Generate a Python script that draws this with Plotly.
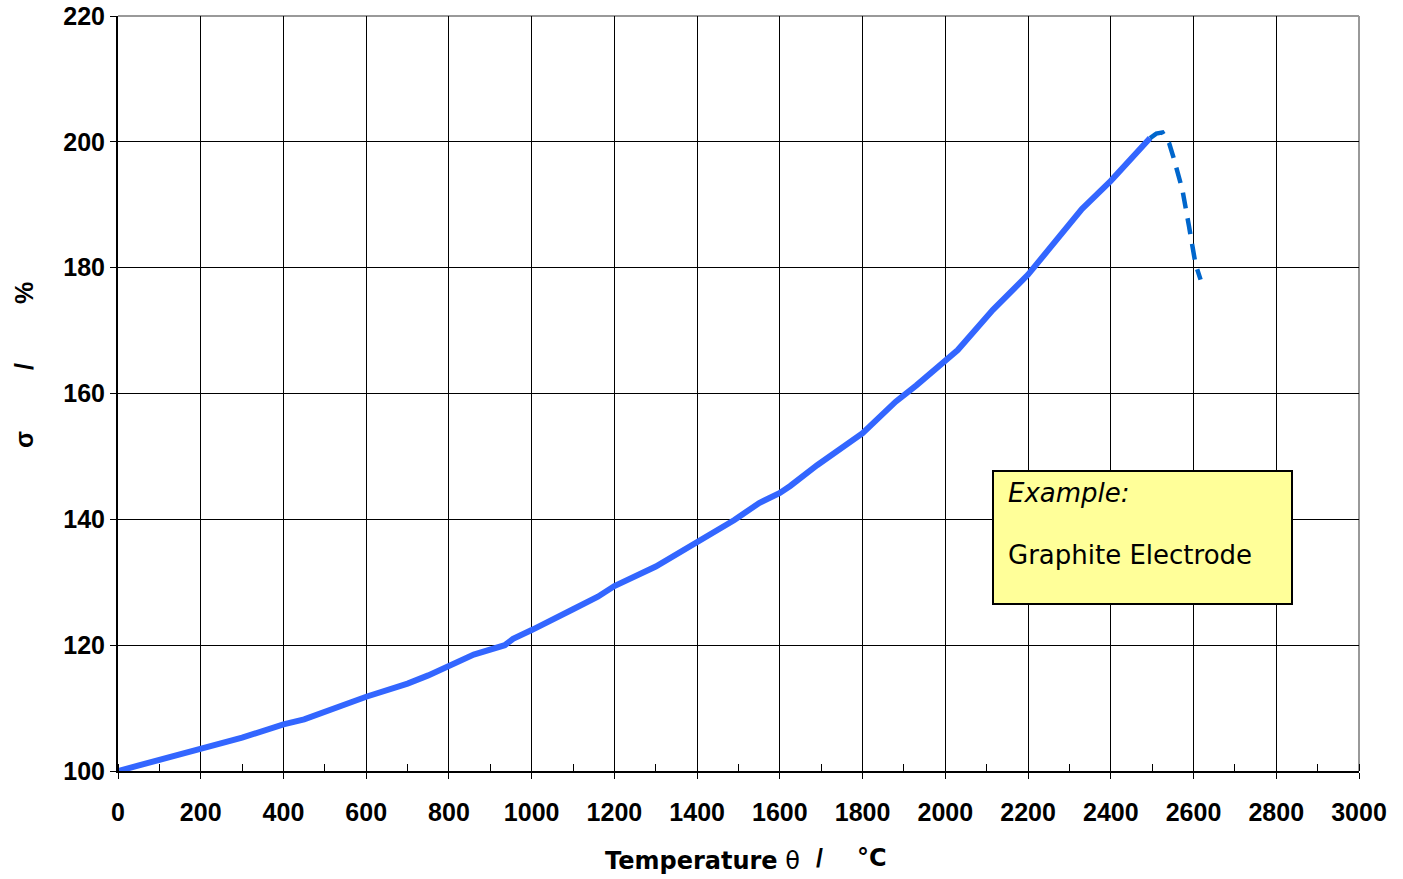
import plotly.graph_objects as go

# --- data ---
temp_solid = [0, 200, 300, 400, 450, 600, 700, 750, 800, 860, 935, 955, 1000, 1060, 1100,
              1160, 1200, 1300, 1400, 1490, 1550, 1600, 1625, 1690, 1800, 1880, 1930, 2000,
              2030, 2115, 2200, 2250, 2330, 2400, 2480, 2495]
sigma_solid = [100, 103.6, 105.3, 107.4, 108.2, 111.8, 113.9, 115.2, 116.7, 118.5, 120.0, 121.0,
               122.4, 124.5, 125.7, 127.7, 129.4, 132.5, 136.5, 139.9, 142.6, 144.2, 145.3, 148.6,
               153.7, 158.7, 161.3, 165.3, 166.9, 173.3, 178.9, 182.9, 189.3, 193.8, 199.6, 200.6]

temp_dashed = [2495, 2510, 2525, 2541, 2553, 2573, 2589, 2605, 2617]
sigma_dashed = [200.6, 201.3, 201.5, 199.8, 197.2, 192.4, 186.6, 180.5, 178.1]

x_ticks = list(range(0, 3001, 200))
y_ticks = list(range(100, 221, 20))

W, H = 1403, 879
L, R, T, B = 118, 44, 16, 108
pw, ph = W - L - R, H - T - B

def px_x(p):
    return (p - L) / pw

def px_y(p):
    return (H - B - p) / ph

fig = go.Figure()
fig.add_trace(go.Scatter(x=temp_solid, y=sigma_solid, mode="lines",
                         line=dict(color="#3366FF", width=6), showlegend=False))
fig.add_trace(go.Scatter(x=temp_dashed, y=sigma_dashed, mode="lines",
                         line=dict(color="#0066CC", width=4.5, dash="16px,10px"), showlegend=False))

tickfont = dict(family="Liberation Sans, Arial", size=25, color="black", weight="bold")

fig.update_xaxes(range=[0, 3000], tickvals=x_ticks, ticktext=[str(v) for v in x_ticks],
                 showgrid=True, gridcolor="black", gridwidth=1,
                 showline=True, linecolor="black", linewidth=2,
                 ticks="outside", ticklen=6, tickcolor="black", tickwidth=1,
                 ticklabelstandoff=12, automargin=False,
                 minor=dict(dtick=100, tick0=0, ticks="inside", ticklen=7, tickcolor="black",
                            tickwidth=1, showgrid=False),
                 tickfont=tickfont, zeroline=False)
fig.update_yaxes(range=[100, 220], tickvals=y_ticks, ticktext=[str(v) for v in y_ticks],
                 showgrid=True, gridcolor="black", gridwidth=1,
                 showline=True, linecolor="black", linewidth=2,
                 ticks="outside", ticklen=6, tickcolor="black", tickwidth=1,
                 automargin=False,
                 tickfont=tickfont, zeroline=False)

# gray frame on top/right
fig.add_shape(type="line", xref="paper", yref="paper", x0=0, x1=1, y0=1, y1=1,
              line=dict(color="#999999", width=2), layer="between")
fig.add_shape(type="line", xref="paper", yref="paper", x0=1, x1=1, y0=0, y1=1,
              line=dict(color="#999999", width=2), layer="between")

# annotation box
fig.add_shape(type="rect", xref="paper", yref="paper",
              x0=px_x(993), x1=px_x(1292), y0=px_y(604), y1=px_y(471),
              fillcolor="#FFFF99", line=dict(color="black", width=2), layer="above")

boxfont = dict(family="DejaVu Sans", size=26, color="black")
annots = [
    dict(text="<i>Example:</i>", x=px_x(1006), y=px_y(493), xanchor="left", yanchor="middle",
         font=boxfont),
    dict(text="Graphite Electrode", x=px_x(1006), y=px_y(555), xanchor="left", yanchor="middle",
         font=boxfont),
    # y-axis title pieces
    dict(text="σ", x=px_x(24), y=px_y(440), textangle=-90, xanchor="center", yanchor="middle",
         font=dict(family="Liberation Sans, Arial", size=25, color="black", weight="bold")),
    dict(text="/", x=px_x(24), y=px_y(367), textangle=-90, xanchor="center", yanchor="middle",
         font=dict(family="Liberation Sans, Arial", size=25, color="black", weight="bold")),
    dict(text="%", x=px_x(24), y=px_y(293), textangle=-90, xanchor="center", yanchor="middle",
         font=dict(family="Liberation Sans, Arial", size=25, color="black", weight="bold")),
    # x-axis title pieces
    dict(text="<b>Temperature</b> θ", x=px_x(802), y=px_y(861), xanchor="right", yanchor="middle",
         font=dict(family="DejaVu Sans", size=24, color="black")),
    dict(text="<b>/</b>", x=px_x(819), y=px_y(858), xanchor="center", yanchor="middle",
         font=dict(family="Liberation Sans, Arial", size=25, color="black")),
    dict(text="<b>°C</b>", x=px_x(872), y=px_y(858), xanchor="center", yanchor="middle",
         font=dict(family="DejaVu Sans", size=24, color="black")),
]
for a in annots:
    fig.add_annotation(xref="paper", yref="paper", showarrow=False, **a)

fig.update_layout(width=W, height=H, margin=dict(l=L, r=R, t=T, b=B),
                  paper_bgcolor="white", plot_bgcolor="white", showlegend=False)

fig.write_html("out.html")
